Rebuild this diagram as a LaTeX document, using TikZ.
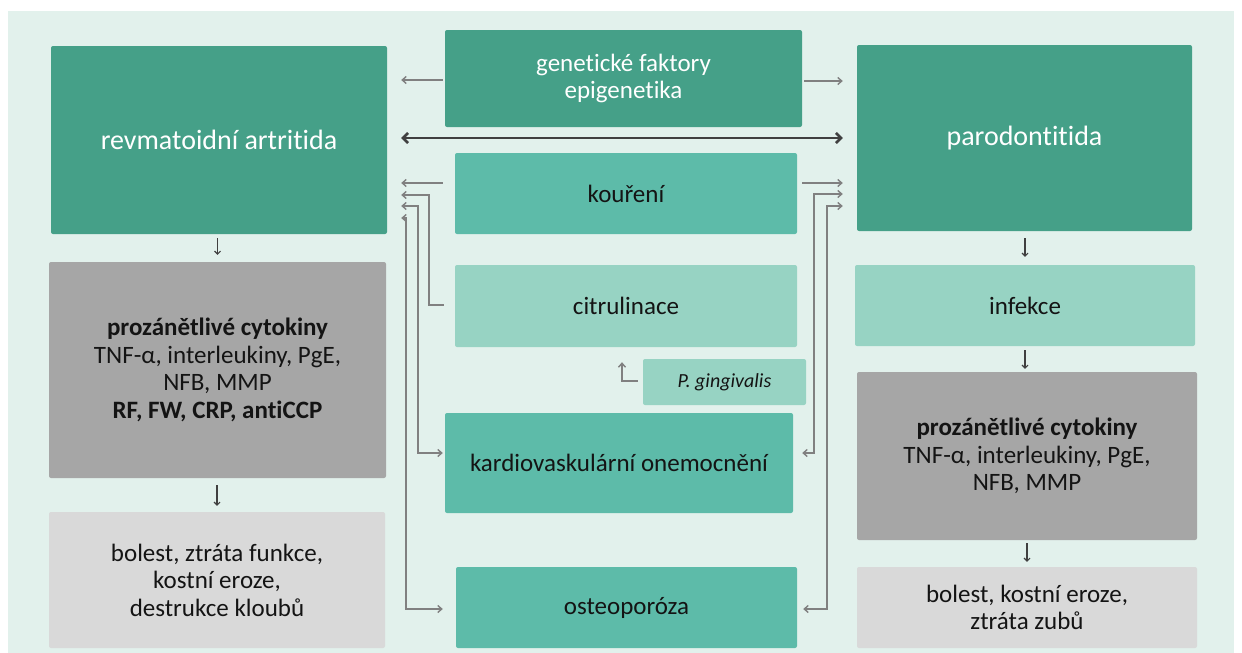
\documentclass[tikz,border=0pt]{standalone}
\usepackage{fontspec}
\setmainfont{Carlito}[Ligatures=NoCommon]
\usetikzlibrary{arrows.meta}
\definecolor{bgc}{HTML}{E2F1EC}
\definecolor{dteal}{HTML}{45A088}
\definecolor{mteal}{HTML}{5DBBA9}
\definecolor{lteal}{HTML}{97D3C3}
\definecolor{gdark}{HTML}{A6A6A6}
\definecolor{glight}{HTML}{D9D9D9}
\definecolor{linec}{HTML}{808080}
\definecolor{txt}{HTML}{141414}
\tikzset{
  box/.style={rectangle, rounded corners=2pt, inner sep=0pt, align=center, font=\fontsize{25}{27.5}\selectfont, text=txt},
  big/.style={box, fill=dteal, text=white},
  mid/.style={box, fill=mteal},
  lig/.style={box, fill=lteal},
  gry/.style={box, fill=gdark},
  lgry/.style={box, fill=glight},
  arr/.style={draw=linec, line width=1.4pt, -{Straight Barb[length=4pt,width=7pt]}},
  barr/.style={draw=linec, line width=1.4pt, {Straight Barb[length=4pt,width=7pt]}-{Straight Barb[length=4pt,width=7pt]}},
  darr/.style={draw=black!75, line width=1.1pt, -{Straight Barb[length=3pt,width=6pt]}},
  thick2/.style={draw=black!75, line width=2.6pt, {Straight Barb[length=5pt,width=10pt]}-{Straight Barb[length=5pt,width=10pt]}}
}
\begin{document}
\begin{tikzpicture}[x=1pt,y=-1pt]
\useasboundingbox (0,0) rectangle (1242,653);
\fill[white] (0,0) rectangle (1242,653);
\fill[bgc] (8,11) rectangle (1234,653);
% top row
\node[big, minimum width=336pt, minimum height=188pt, font=\fontsize{28}{32}\selectfont] (ra) at (219,140) {revmatoidní artritida};
\node[big, minimum width=357pt, minimum height=97pt] (gen) at (623.5,78.5) {genetické faktory\\epigenetika};
\node[big, minimum width=335pt, minimum height=186pt, font=\fontsize{28}{32}\selectfont] (paro) at (1024.5,138) {parodontitida};
% middle column
\node[mid, minimum width=342pt, minimum height=81pt] (kour) at (626,193.5) {kouření};
\node[lig, minimum width=342pt, minimum height=82pt] (citr) at (626,306) {citrulinace};
\node[lig, minimum width=163pt, minimum height=46pt, font=\fontsize{20}{23}\selectfont\itshape] (ging) at (724.5,382) {P. gingivalis};
\node[mid, minimum width=348pt, minimum height=100pt] (kard) at (619,463) {kardiovaskulární onemocnění};
\node[mid, minimum width=341pt, minimum height=81pt] (oste) at (626.5,607.5) {osteoporóza};
% left column
\node[gry, minimum width=337pt, minimum height=216pt] (cytl) at (217.5,370) {\textbf{prozánětlivé cytokiny}\\TNF-α, interleukiny, PgE,\\NFB, MMP\\\textbf{RF, FW, CRP, antiCCP}};
\node[lgry, minimum width=336pt, minimum height=136pt] (boll) at (217,580) {bolest, ztráta funkce,\\kostní eroze,\\destrukce kloubů};
% right column
\node[lig, minimum width=340pt, minimum height=81pt] (inf) at (1025,305.5) {infekce};
\node[gry, minimum width=340pt, minimum height=168pt] (cytr) at (1027,456) {\textbf{prozánětlivé cytokiny}\\TNF-α, interleukiny, PgE,\\NFB, MMP};
\node[lgry, minimum width=340pt, minimum height=81pt] (bolr) at (1027,607.5) {bolest, kostní eroze,\\ztráta zubů};
% top connectors
\draw[arr, shorten <=2pt] (gen.west |- 0,80) -- ([xshift=14pt]ra.east |- 0,80);
\draw[arr] ([xshift=2pt]gen.east |- 0,81) -- ([xshift=-14pt]paro.west |- 0,81);
\draw[thick2] ([xshift=14pt]ra.east |- 0,138) -- ([xshift=-14pt]paro.west |- 0,138);
% left side connectors
\draw[arr] ([xshift=-12pt]kour.west |- 0,183) -- ([xshift=14pt]ra.east |- 0,183);
\draw[arr] ([xshift=-11pt]citr.west |- 0,305) -| (429,195) -- ([xshift=14pt]ra.east |- 0,195);
\draw[barr] ([xshift=14pt]ra.east |- 0,206) -| (418,453) -- ([xshift=-2pt]kard.west |- 0,453);
\draw[barr] ([xshift=14pt]ra.east |- 0,218) -| (406,609) -- ([xshift=-13pt]oste.west |- 0,609);
% right side connectors
\draw[arr] ([xshift=5pt]kour.east |- 0,183) -- ([xshift=-14pt]paro.west |- 0,183);
\draw[barr] ([xshift=9pt]kard.east |- 0,453) -| (814,194) -- ([xshift=-14pt]paro.west |- 0,194);
\draw[barr] ([xshift=6pt]oste.east |- 0,609) -| (827,206) -- ([xshift=-14pt]paro.west |- 0,206);
% P. gingivalis
\draw[arr] ([xshift=-5pt]ging.west |- 0,381) -| ([yshift=-15pt]citr.south -| 622,0);
% down arrows
\draw[darr, shorten <=4pt, shorten >=7pt] (cytl.north |- ra.south) -- (cytl.north);
\draw[darr, shorten <=7pt, shorten >=6pt] (boll.north |- cytl.south) -- (boll.north);
\draw[darr, shorten <=7pt, shorten >=8pt] (inf.north |- paro.south) -- (inf.north);
\draw[darr, shorten <=4pt, shorten >=3pt] (inf.south) -- (inf.south |- cytr.north);
\draw[darr, shorten <=3pt, shorten >=5pt] (bolr.north |- cytr.south) -- (bolr.north);
\end{tikzpicture}
\end{document}
